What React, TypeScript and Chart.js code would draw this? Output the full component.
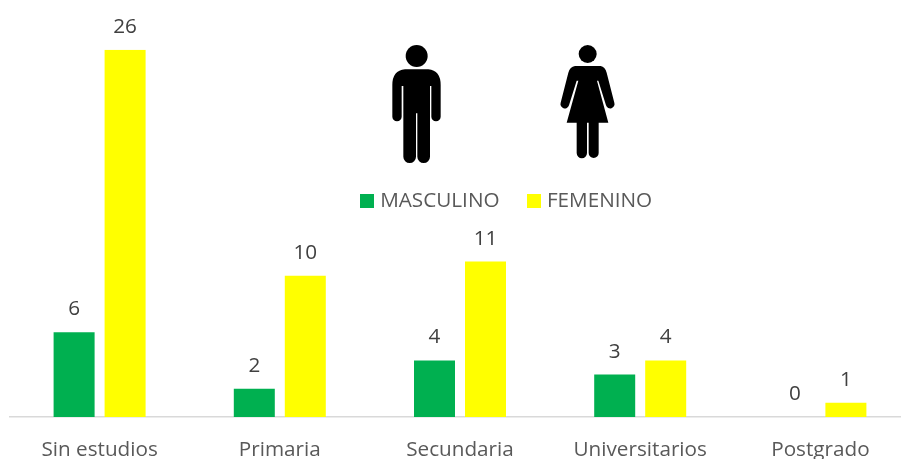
import React, { useEffect, useRef } from "react";
import { Chart, registerables } from "chart.js";

Chart.register(...registerables);

const categories = ["Sin estudios", "Primaria", "Secundaria", "Universitarios", "Postgrado"];
const masculino = [6, 2, 4, 3, 0];
const femenino = [26, 10, 11, 4, 1];

const FONT = "'Open Sans', sans-serif";
const MAN =
  "M165 118H235Q272 122 272 165V260A14 14 0 0 1 244 260V168H240V380A19 19 0 0 1 202 380V250H198V380A19 19 0 0 1 160 380V168H155V260A14 14 0 0 1 127 260V165Q127 122 165 118Z";
const WOMAN =
  "M675 108H752Q765 110 770 128L793 218A13 13 0 0 1 768 226L745 152H741L775 278H746V369A15 15 0 0 1 716 369V278H711V369A15 15 0 0 1 680 369V278H650L685 152H680L657 226A13 13 0 0 1 632 218L655 128Q660 110 675 108Z";

function swatch(color: string) {
  const c = document.createElement("canvas");
  c.width = 14;
  c.height = 14;
  const g = c.getContext("2d")!;
  g.fillStyle = color;
  g.fillRect(0, 0, 14, 14);
  return c;
}

const decorations = {
  id: "decorations",
  afterLayout(chart: any) {
    const l = chart.legend;
    const dx = 48;
    const dy = 172;
    l.left += dx;
    l.right += dx;
    l.top += dy;
    l.bottom += dy;
  },
  afterDatasetsDraw(chart: any) {
    const { ctx } = chart;
    ctx.save();
    ctx.font = `20.7px ${FONT}`;
    ctx.fillStyle = "#404040";
    ctx.textAlign = "center";
    ctx.textBaseline = "middle";
    chart.data.datasets.forEach((ds: any, i: number) => {
      chart.getDatasetMeta(i).data.forEach((bar: any, j: number) => {
        ctx.fillText(String(ds.data[j]), bar.x, bar.y - 23);
      });
    });
    ctx.restore();
    ctx.save();
    ctx.translate(350, 30);
    ctx.scale(1 / 3, 1 / 3);
    ctx.fillStyle = "#000000";
    ctx.beginPath();
    ctx.arc(200, 78, 33, 0, Math.PI * 2);
    ctx.fill();
    ctx.beginPath();
    ctx.arc(713, 72, 27, 0, Math.PI * 2);
    ctx.fill();
    ctx.fill(new Path2D(MAN));
    ctx.fill(new Path2D(WOMAN));
    ctx.restore();
  },
};

export default function App() {
  const ref = useRef<HTMLCanvasElement>(null);
  useEffect(() => {
    const chart = new Chart(ref.current!, {
      type: "bar",
      data: {
        labels: categories,
        datasets: [
          { label: "MASCULINO", data: masculino, backgroundColor: "#00B050", pointStyle: swatch("#00B050") as any },
          { label: "FEMENINO", data: femenino, backgroundColor: "#FFFF00", pointStyle: swatch("#FFFF00") as any },
        ],
      },
      options: {
        responsive: false,
        animation: false,
        layout: { padding: { left: 9.5, right: 9.5, top: -12, bottom: 0 } },
        datasets: { bar: { categoryPercentage: 0.566, barPercentage: 0.804 } },
        plugins: {
          tooltip: { enabled: false },
          legend: {
            position: "top",
            align: "center",
            labels: {
              usePointStyle: true,
              boxWidth: 6,
              boxHeight: 14,
              padding: 31,
              color: "#595959",
              font: { family: FONT, size: 20.7 },
              generateLabels(chart: any) {
                return chart.data.datasets.map((d: any, i: number) => ({
                  text: d.label,
                  fontColor: "#595959",
                  fillStyle: d.backgroundColor,
                  strokeStyle: d.backgroundColor,
                  lineWidth: 0,
                  pointStyle: d.pointStyle,
                  datasetIndex: i,
                }));
              },
            },
          },
        },
        scales: {
          y: { display: false, min: 0, max: 26 },
          x: {
            grid: { display: false, drawTicks: false },
            border: { display: true, color: "#D9D9D9", width: 1.5 },
            afterFit(s: any) {
              s.height = 42;
            },
            ticks: {
              color: "#595959",
              padding: 21,
              autoSkip: false,
              maxRotation: 0,
              font: { family: FONT, size: 20.7 },
            },
          },
        },
      },
      plugins: [decorations],
    } as any);
    return () => chart.destroy();
  }, []);
  return (
    <div style={{ position: "absolute", left: 0, top: 0, width: 901, height: 459, overflow: "hidden", background: "#fff" }}>
      <canvas ref={ref} width={920} height={459} style={{ display: "block" }} />
    </div>
  );
}
